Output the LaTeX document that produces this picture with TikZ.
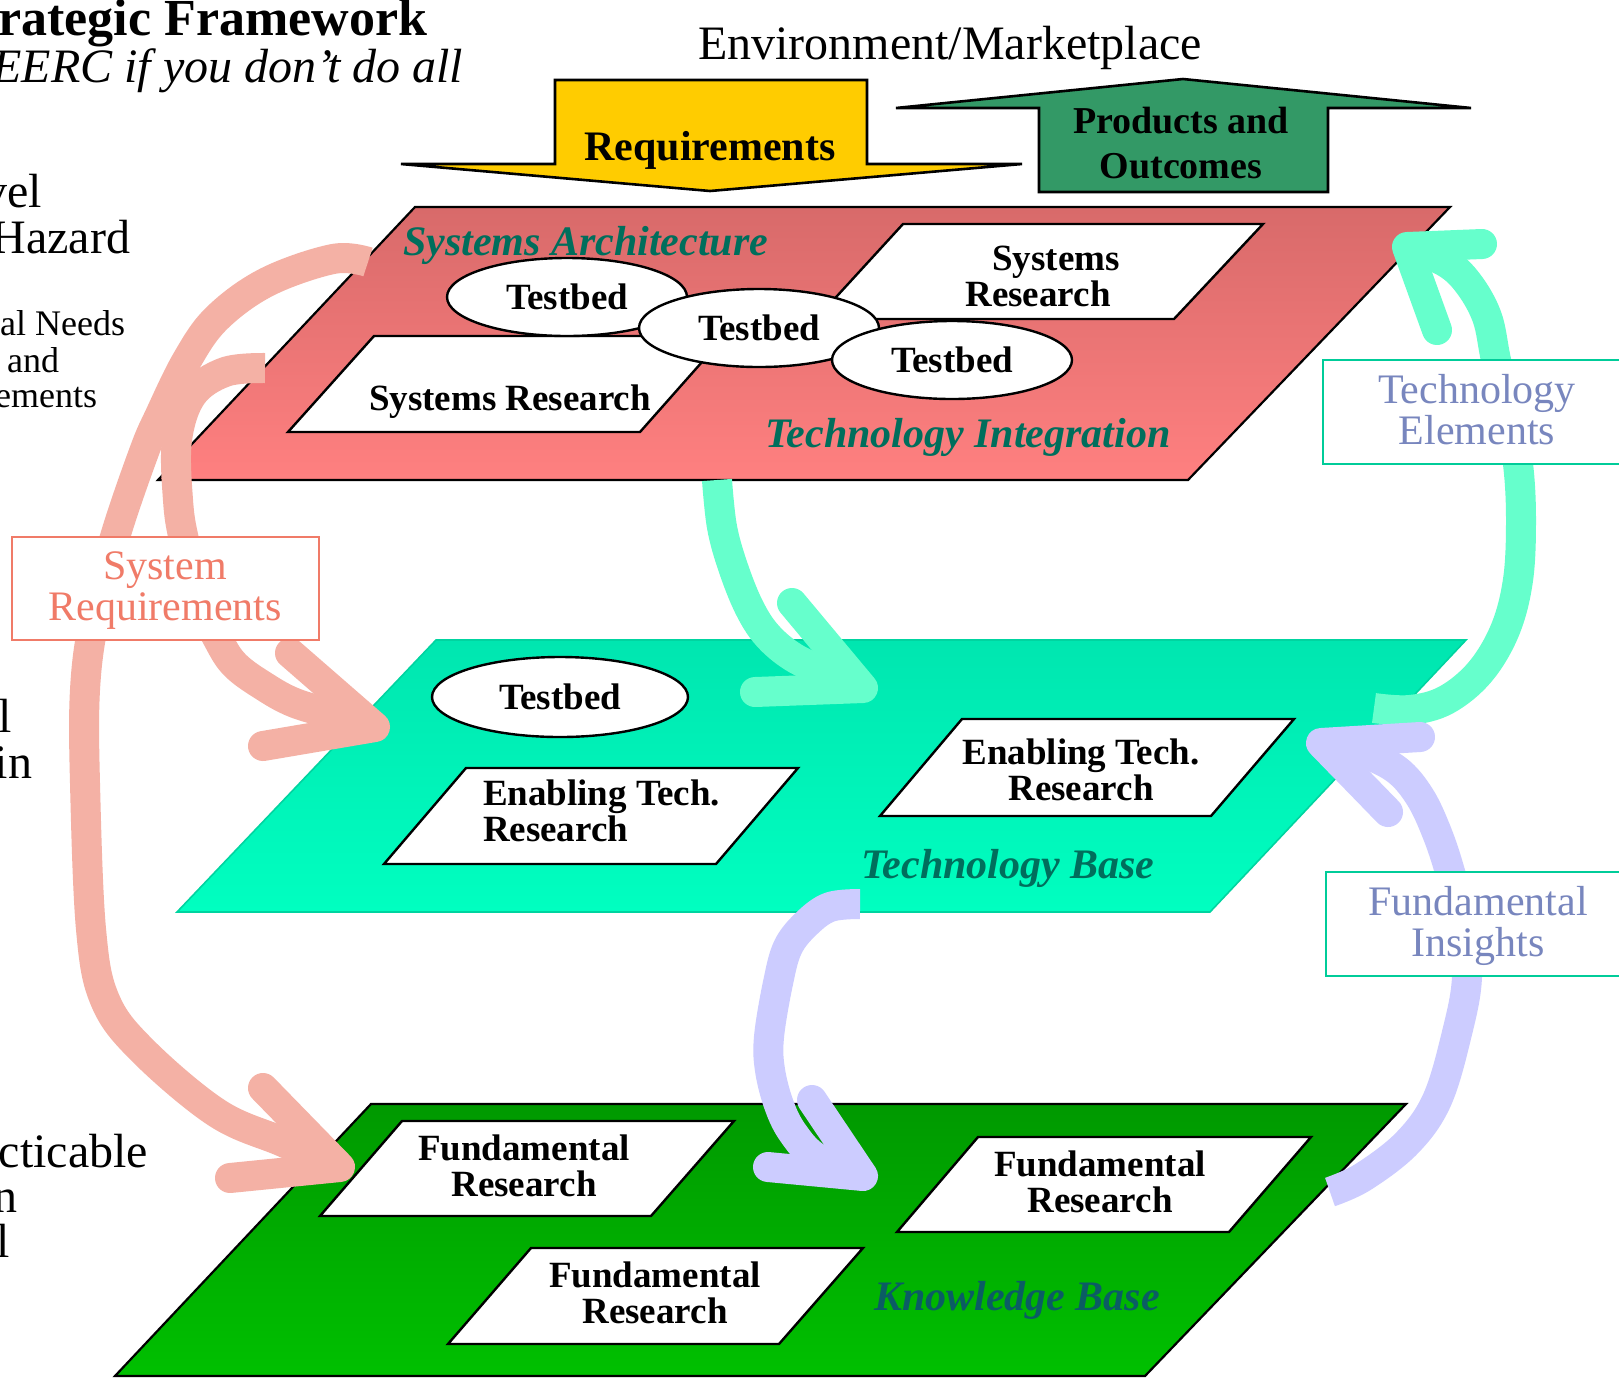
\documentclass[tikz,border=0pt]{standalone}
\usepackage{fontspec}
\setmainfont{Liberation Serif}
\usetikzlibrary{shapes.geometric}
\definecolor{redtop}{HTML}{D86A6A}
\definecolor{redbot}{HTML}{FF8080}
\definecolor{tealtop}{HTML}{00E6B0}
\definecolor{tealbot}{HTML}{00FFC0}
\definecolor{tealedge}{HTML}{00D4A0}
\definecolor{greentop}{HTML}{009900}
\definecolor{greenbot}{HTML}{00C000}
\definecolor{reqyellow}{HTML}{FFCC00}
\definecolor{prodgreen}{HTML}{339966}
\definecolor{salmonarr}{HTML}{F4B1A5}
\definecolor{mintarr}{HTML}{66FFCC}
\definecolor{lavarr}{HTML}{CCCCFF}
\definecolor{darkteal}{HTML}{006E5C}
\definecolor{knowteal}{HTML}{0B5C64}
\definecolor{srtext}{HTML}{F07B68}
\definecolor{labtext}{HTML}{7886BE}
\definecolor{labedge}{HTML}{00CC99}
\begin{document}
\begin{tikzpicture}[x=0.5pt,y=-0.5pt,
  every node/.style={inner sep=0pt, outer sep=0pt},
  panel/.style={draw=black, line width=1.1pt, line join=miter},
  rbox/.style={draw=black, fill=white, line width=1.2pt, line join=miter},
  tb/.style={ellipse, draw=black, fill=white, line width=1.2pt, minimum width=120pt, minimum height=39pt, font=\fontsize{18.5}{18}\selectfont\bfseries},
  boxtxt/.style={font=\fontsize{18.5}{18}\selectfont\bfseries, align=center},
  lvl/.style={font=\fontsize{21}{24}\selectfont\bfseries\itshape, text=darkteal},
  lab/.style={font=\fontsize{21}{20.5}\selectfont, align=center},
  side/.style={font=\fontsize{24}{28}\selectfont, anchor=base east},
  sidesm/.style={font=\fontsize{18}{22}\selectfont, anchor=base east},
  fat/.style={line width=15pt, line cap=butt, line join=round},
  barb/.style={line width=15pt, line cap=round, line join=round},
  bigarrow/.style={draw=black, line width=1.3pt, line join=miter},
]
\useasboundingbox (0,0) rectangle (1619,1378);
\clip (0,0) rectangle (1619,1378);
\fill[white] (0,0) rectangle (1619,1378);

% ---- header texts (cut off at left) ----
\node[font=\fontsize{26}{30}\selectfont\bfseries, anchor=base east] (title) at (427,35) {rategic Framework};
\node[font=\fontsize{24}{28}\selectfont\itshape, anchor=base east] (subtitle) at (463,82) {EERC if you don’t do all};
\node[side] (s1) at (42,207) {vel};
\node[side] (s2) at (130,253) {Hazard};
\node[sidesm] (s3) at (125,335) {al Needs};
\node[sidesm] (s4) at (59,372) {and};
\node[sidesm] (s5) at (97,407) {ements};
\node[side] (s6) at (12,732) {l};
\node[side] (s7) at (32,778) {in};
\node[side] (s8) at (148,1167) {cticable};
\node[side] (s9) at (18,1212) {n};
\node[side] (s10) at (10,1257) {l};
\node[font=\fontsize{24}{28}\selectfont, anchor=base] (env) at (950,59) {Environment/Marketplace};

% ---- big arrows ----
\draw[bigarrow, fill=reqyellow] (555,80) -- (867,80) -- (867,164) -- (1022,164) -- (710,191) -- (401,164) -- (555,164) -- cycle;
\node[font=\fontsize{21}{24}\selectfont\bfseries, anchor=base] (req) at (710,160) {Requirements};
\draw[bigarrow, fill=prodgreen] (1183,79) -- (1471,108) -- (1328,108) -- (1328,192) -- (1039,192) -- (1039,108) -- (896,108) -- cycle;
\node[font=\fontsize{19}{22.5}\selectfont\bfseries, align=center, anchor=base] (prod) at (1181,178) {Products and\\Outcomes};

% ---- top panel ----
\draw[panel, top color=redtop, bottom color=redbot] (415,207) -- (1450,207) -- (1188,480) -- (158,480) -- cycle;
\draw[rbox] (903,224) -- (1263,224) -- (1174,319) -- (816,319) -- cycle;
\node[boxtxt, anchor=base] (sr1) at (1047,306) {\hspace*{9pt}Systems\\Research\hspace*{9pt}};
\draw[rbox] (374,336) -- (725,336) -- (640,432) -- (288,432) -- cycle;
\node[boxtxt, anchor=base] (sr2) at (510,410) {Systems Research};
\node[tb] (tb1) at (567,297) {Testbed};
\node[tb] (tb2) at (759,328) {Testbed};
\node[tb] (tb3) at (952,360) {Testbed};
\node[lvl, anchor=base west] (sysarch) at (403,255) {Systems Architecture};
\node[lvl, anchor=base west] (techint) at (765,447) {Technology Integration};

% ---- middle panel ----
\draw[draw=tealedge, line width=0.8pt, top color=tealtop, bottom color=tealbot] (436,640) -- (1466,640) -- (1210,912) -- (177,912) -- cycle;
\node[tb, minimum width=128pt, minimum height=40pt] (tb4) at (560,697) {Testbed};
\draw[rbox] (466,768) -- (798,768) -- (716,864) -- (384,864) -- cycle;
\node[boxtxt, align=left, anchor=base west] (etr1) at (483,841) {Enabling Tech.\\Research};
\draw[rbox] (962,719) -- (1294,719) -- (1211,816) -- (880,816) -- cycle;
\node[boxtxt, anchor=base] (etr2) at (1081,800) {Enabling Tech.\\Research};
\node[lvl, anchor=base west] (techbase) at (861,878) {Technology Base};

% ---- bottom panel ----
\draw[panel, top color=greentop, bottom color=greenbot] (371,1104) -- (1406,1104) -- (1145,1376) -- (115,1376) -- cycle;
\draw[rbox] (402,1121) -- (734,1121) -- (651,1216) -- (320,1216) -- cycle;
\node[boxtxt, anchor=base] (fr1) at (524,1196) {Fundamental\\Research};
\draw[rbox] (978,1137) -- (1311,1137) -- (1229,1232) -- (897,1232) -- cycle;
\node[boxtxt, anchor=base] (fr2) at (1100,1212) {Fundamental\\Research};
\draw[rbox] (531,1248) -- (863,1248) -- (779,1344) -- (448,1344) -- cycle;
\node[boxtxt, anchor=base] (fr3) at (655,1323) {Fundamental\\Research};
\node[lvl, text=knowteal, anchor=base west] (knowbase) at (874,1310) {Knowledge Base};

% ---- salmon arrows ----
\coordinate (sA0) at (368,262);
\coordinate (sAtip) at (340,1167);
\draw[fat, salmonarr] plot[smooth, tension=0.6] coordinates {(sA0) (333,259) (267,282) (217,318) (187,360) (160,415) (144,452) (115,537) (94,620) (85,690) (85,783) (91,929) (105,1000) (142,1050) (217,1113) (283,1142) (sAtip)};
\draw[barb, salmonarr] (263,1088) -- (sAtip) -- (230,1178);
\coordinate (sB0) at (265,368);
\coordinate (sBtip) at (375,727);
\draw[fat, salmonarr] plot[smooth, tension=0.6] coordinates {(sB0) (225,372) (192,395) (177,440) (178,500) (184,540) (200,600) (219,641) (235,665) (262,685) (295,703) (343,717) (sBtip)};
\draw[barb, salmonarr] (290,653) -- (sBtip) -- (263,746);

% ---- mint arrows ----
\coordinate (m10) at (717,480);
\coordinate (m1tip) at (863,688);
\draw[fat, mintarr] plot[smooth, tension=0.6] coordinates {(m10) (722,527) (733,567) (749,607) (767,635) (793,657) (827,673) (m1tip)};
\draw[barb, mintarr] (792,603) -- (m1tip) -- (755,692);
\coordinate (m20) at (1374,708);
\coordinate (m2tip) at (1407,247);
\draw[fat, mintarr] plot[smooth, tension=0.6] coordinates {(m20) (1410,710) (1446,700) (1480,672) (1505,630) (1518,580) (1521,520) (1518,464) (1508,410) (1496,360) (1487,317) (1468,283) (1445,262) (m2tip)};
\draw[barb, mintarr] (1482,244) -- (m2tip) -- (1437,330);

% ---- lavender arrows ----
\coordinate (l10) at (860,904);
\coordinate (l1tip) at (863,1176);
\draw[fat, lavarr] plot[smooth, tension=0.6] coordinates {(l10) (830,907) (807,923) (788,947) (778,983) (769,1037) (770,1070) (779,1105) (793,1133) (817,1158) (l1tip)};
\draw[barb, lavarr] (812,1100) -- (l1tip) -- (768,1167);
\coordinate (l20) at (1330,1192);
\coordinate (l2tip) at (1321,743);
\draw[fat, lavarr] plot[smooth, tension=0.6] coordinates {(l20) (1363,1177) (1407,1143) (1437,1100) (1457,1033) (1467,977) (1462,920) (1450,872) (1437,833) (1420,797) (1397,770) (1363,753) (l2tip)};
\draw[barb, lavarr] (1420,737) -- (l2tip) -- (1388,812);

% ---- label boxes ----
\draw[draw=srtext, fill=white, line width=1pt] (12,537) rectangle (319,640);
\node[lab, text=srtext, anchor=base] (sysreq) at (165,620) {System\\Requirements};
\draw[draw=labedge, fill=white, line width=1pt] (1323,360) rectangle (1630,464);
\node[lab, text=labtext, anchor=base] (techel) at (1477,444) {Technology\\Elements};
\draw[draw=labedge, fill=white, line width=1pt] (1326,872) rectangle (1630,976);
\node[lab, text=labtext, anchor=base] (fundins) at (1478,956) {Fundamental\\Insights};
\end{tikzpicture}
\end{document}
